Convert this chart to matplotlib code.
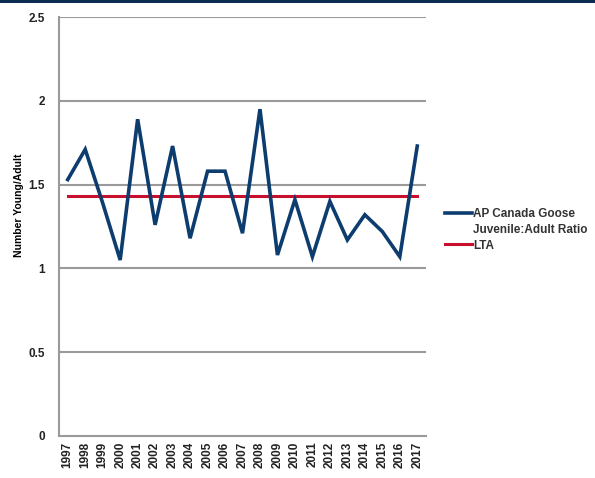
import matplotlib.pyplot as plt
import numpy as np
from matplotlib.lines import Line2D
from matplotlib.patches import Rectangle

years = ['1997', '1998', '1999', '2000', '2001', '2002', '2003', '2004', '2005', '2006', '2007',
         '2008', '2009', '2010', '2011', '2012', '2013', '2014', '2015', '2016', '2017']
ratio = [1.53, 1.71, 1.39, 1.05, 1.89, 1.26, 1.73, 1.18, 1.58, 1.58, 1.21,
         1.95, 1.08, 1.41, 1.07, 1.40, 1.17, 1.32, 1.22, 1.07, 1.73]
lta = [1.43] * len(years)
yticks = [0, 0.5, 1, 1.5, 2, 2.5]
ytick_labels = ['0', '0.5', '1', '1.5', '2', '2.5']

plt.rcParams['font.family'] = ['Liberation Sans', 'DejaVu Sans']

fig = plt.figure(figsize=(5.95, 4.78), dpi=100)
# faixa escura do slide no topo
fig.add_artist(Rectangle((0, 1 - 3/478), 1, 3/478, transform=fig.transFigure,
                         color='#0c2d4f', lw=0))

ax = fig.add_axes([59/595, 42/478, 367/595, 419/478])
x = np.arange(len(years))
l1, = ax.plot(x, ratio, color='#0d3c6e', lw=2.6, solid_joinstyle='miter', zorder=3)
l2, = ax.plot(x, lta, color='#c8102e', lw=2.2, zorder=2)

ax.set_xlim(-0.5, len(years) - 0.5)
ax.set_ylim(0, 2.5)
ax.set_yticks(yticks)
ax.set_yticklabels(ytick_labels)
ax.set_xticks(x)
ax.set_xticklabels(years, rotation=90)
ax.tick_params(length=0, labelsize=8.5, colors='#222222')
for lab in ax.get_xticklabels() + ax.get_yticklabels():
    lab.set_fontweight('bold')
ax.tick_params(axis='y', pad=10)
ax.tick_params(axis='x', pad=4)

for v in yticks[1:]:
    ax.axhline(v, color='#9a9a9a', lw=1.5, zorder=1)
for s in ['top', 'right']:
    ax.spines[s].set_visible(False)
for s in ['left', 'bottom']:
    ax.spines[s].set_color('#9a9a9a')
    ax.spines[s].set_linewidth(1.5)

ax.set_ylabel('Number Young/Adult', fontsize=7.5, fontweight='bold')
ax.yaxis.set_label_coords(-0.095, 0.55)

# legenda: handle alinhado com a primeira linha do texto
vazio = Line2D([], [], color='none')
leg = ax.legend([l1, vazio, l2], ['AP Canada Goose', 'Juvenile:Adult Ratio', 'LTA'],
                loc='upper left', bbox_to_anchor=(445/595, 1 - 208/478),
                bbox_transform=fig.transFigure, frameon=False, fontsize=8.5,
                handlelength=2.3, handletextpad=0.1, labelspacing=0.32,
                borderpad=0, borderaxespad=0)
for t in leg.get_texts():
    t.set_fontweight('bold')
    t.set_color('#333333')

fig.savefig('out.png', dpi=100)
